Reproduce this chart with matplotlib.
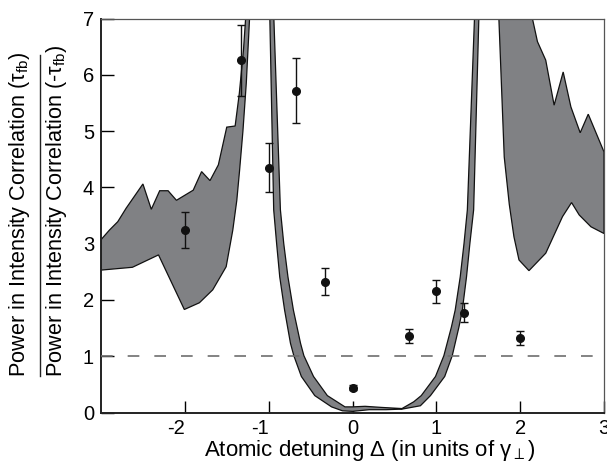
#!/usr/bin/env python3

import numpy as np
import matplotlib
matplotlib.use('Agg')
from matplotlib import pyplot as plt
from matplotlib.lines import Line2D
from matplotlib.transforms import ScaledTranslation

plt.rcParams['font.family'] = ['Liberation Sans', 'DejaVu Sans']
plt.rcParams['mathtext.fontset'] = 'custom'
plt.rcParams['mathtext.rm'] = 'Liberation Sans'
plt.rcParams['mathtext.it'] = 'Liberation Sans:italic'

# measured ratio with error bars
det = [-2.0, -1.33, -1.0, -0.67, -0.33, 0.0, 0.67, 1.0, 1.33, 2.0]
ratio = [3.25, 6.26, 4.35, 5.72, 2.32, 0.44, 1.36, 2.15, 1.77, 1.32]
ratio_err = [0.32, 0.63, 0.44, 0.57, 0.24, 0.04, 0.13, 0.21, 0.17, 0.12]

# theory band, upper edge
up_x = [-3.0, -2.9, -2.8, -2.7, -2.5, -2.4, -2.3, -2.2, -2.1, -1.9, -1.8,
        -1.7, -1.6, -1.5, -1.4, -1.35, -1.3, -1.275, -1.2, -1.0, -0.938,
        -0.86, -0.82, -0.77, -0.705, -0.62, -0.58, -0.465, -0.30, -0.09,
        0.0, 0.15, 0.35, 0.59, 0.73, 0.82, 0.99, 1.09, 1.18, 1.225, 1.285,
        1.33, 1.37, 1.455, 1.6, 2.0, 2.146, 2.206, 2.305, 2.405, 2.513,
        2.605, 2.716, 2.812, 3.0]
up_y = [3.07, 3.24, 3.39, 3.63, 4.06, 3.61, 3.94, 3.94, 3.77, 3.95, 4.28,
        4.12, 4.40, 5.07, 5.09, 5.67, 6.45, 7.0, 9.0, 9.0, 7.0,
        3.6, 3.0, 2.41, 1.82, 1.23, 1.01, 0.64, 0.30, 0.10,
        0.10, 0.11, 0.09, 0.07, 0.19, 0.30, 0.64, 1.01, 1.52, 1.82, 2.41,
        3.0, 3.6, 7.0, 9.0, 9.0, 7.0, 6.59, 6.26, 5.46, 6.05,
        5.43, 4.97, 5.30, 4.63]

# theory band, lower edge
lo_x = [-3.0, -2.625, -2.314, -2.006, -1.826, -1.667, -1.507, -1.428, -1.38,
        -1.347, -1.307, -1.267, -1.228, -1.15, -1.05, -0.986, -0.94, -0.905,
        -0.868, -0.81, -0.74, -0.70, -0.61, -0.45, -0.25, -0.12, 0.0, 0.2,
        0.4, 0.59, 0.81, 0.93, 1.10, 1.19, 1.27, 1.31, 1.36, 1.40, 1.445,
        1.507, 1.6, 1.7, 1.746, 1.81, 1.87, 1.926, 1.986, 2.105, 2.305,
        2.505, 2.613, 2.704, 2.844, 3.0]
lo_y = [2.53, 2.58, 2.80, 1.83, 1.95, 2.18, 2.59, 3.24, 3.77,
        4.30, 5.0, 5.85, 7.0, 8.0, 8.0, 7.0, 3.6, 3.0,
        2.41, 1.82, 1.23, 1.01, 0.64, 0.30, 0.10, 0.03, 0.02, 0.05,
        0.05, 0.06, 0.12, 0.30, 0.64, 1.01, 1.52, 1.82, 2.41, 3.0, 3.6,
        7.0, 8.0, 8.0, 7.0, 4.54, 3.7, 3.12, 2.71, 2.52, 2.83,
        3.48, 3.73, 3.51, 3.30, 3.18]

xticks = [-2, -1, 0, 1, 2, 3]
yticks = [0, 1, 2, 3, 4, 5, 6, 7]

W, H = 607, 467
fig = plt.figure(figsize=(W / 100, H / 100), dpi=100)
ax = fig.add_axes([101 / W, 1 - 412.5 / H, 503 / W, 394 / H])

band_x = np.concatenate([up_x, lo_x[::-1]])
band_y = np.concatenate([up_y, lo_y[::-1]])
ax.fill(band_x, band_y, facecolor='#808184', edgecolor='#111111',
        linewidth=0.9, zorder=2)

ax.axhline(1, color='#6e6e6e', linewidth=1.2, dashes=(7, 9), zorder=3)

ax.errorbar(det, ratio, yerr=ratio_err, fmt='o', color='#111111',
            markersize=5.5, elinewidth=1.0, capsize=2.8, capthick=1.0,
            zorder=4)

ax.set_xlim(-3, 3)
ax.set_ylim(0, 7)
ax.set_xticks(xticks)
ax.set_yticks(yticks)
ax.set_xticklabels([str(t) for t in xticks])
ax.tick_params(direction='in', length=9, width=1.0, labelsize=14.5,
               top=False, right=False, pad=5)

# negative labels sit a little left of their ticks in the original
shift = ScaledTranslation(-9 / 100, 0, fig.dpi_scale_trans)
for lab in ax.get_xticklabels():
    if lab.get_text().startswith('-'):
        lab.set_transform(lab.get_transform() + shift)

for s in ['left', 'bottom']:
    ax.spines[s].set_linewidth(1.4)
    ax.spines[s].set_color('#222222')
for s in ['top', 'right']:
    ax.spines[s].set_linewidth(0.9)
    ax.spines[s].set_color('#555555')

ax.set_xlabel(r'Atomic detuning Δ (in units of γ$_{\perp}$)', fontsize=16)
ax.xaxis.set_label_coords(0.534, -0.065)

# ratio label drawn as a fraction
fig.text(20 / W, 1 - 377 / H, r'Power in Intensity Correlation (τ$_{\mathrm{fb}}$)',
         rotation=90, ha='center', va='bottom', fontsize=15.6)
fig.text(57 / W, 1 - 377 / H, r'Power in Intensity Correlation (-τ$_{\mathrm{fb}}$)',
         rotation=90, ha='center', va='bottom', fontsize=15.6)
fig.add_artist(Line2D([40 / W, 40 / W], [1 - 376 / H, 1 - 55 / H],
                      transform=fig.transFigure, color='#222222', linewidth=1.0))

plt.savefig('out.png', dpi=100)
